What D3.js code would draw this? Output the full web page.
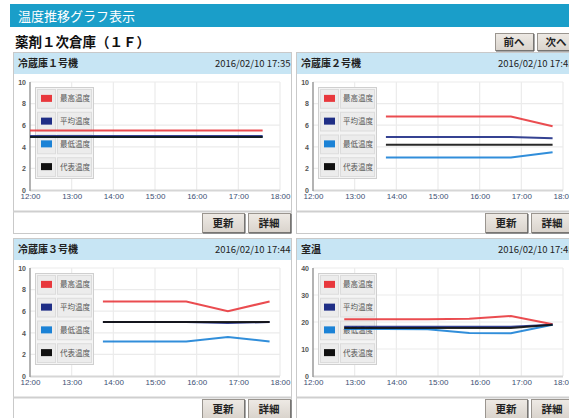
<!DOCTYPE html>
<html><head><meta charset="utf-8">
<script src="https://cdn.jsdelivr.net/npm/d3@7"></script>
<style>
body{margin:0;background:#fff;}
svg{display:block;font-family:"Noto Sans CJK JP","Noto Sans",sans-serif;}
</style>
</head><body>
<svg id="c" width="569" height="418"></svg>
<script>
// ---------- data ----------
const pageTitle = "温度推移グラフ表示";
const areaTitle = "薬剤１次倉庫（１Ｆ）";
const navButtons = ["前へ", "次へ"];
const panelButtons = ["更新", "詳細"];
const panelNames = ["冷蔵庫１号機", "冷蔵庫２号機", "冷蔵庫３号機", "室温"];
const panelDates = ["2016/02/10 17:35", "2016/02/10 17:45", "2016/02/10 17:44", "2016/02/10 17:45"];
const seriesNames = ["最高温度", "平均温度", "最低温度", "代表温度"];
const seriesColors = ["#e8383d", "#1f2e86", "#1b82d6", "#111111"];
const xTickLabels = ["12:00", "13:00", "14:00", "15:00", "16:00", "17:00", "18:00"];
const yTicksFridge = [0, 2, 4, 6, 8, 10];
const yTicksRoom = [0, 10, 20, 30, 40];

const times1 = ["12:00", "13:00", "14:00", "15:00", "16:00", "17:00", "17:35"];
const max1 = [5.5, 5.5, 5.5, 5.5, 5.5, 5.5, 5.5];
const avg1 = [5.0, 5.0, 5.0, 5.0, 5.0, 5.0, 5.0];
const min1 = [4.9, 4.9, 4.9, 4.9, 4.9, 4.9, 4.9];
const rep1 = [4.9, 4.9, 4.9, 4.9, 4.9, 4.9, 4.9];

const times2 = ["13:45", "14:45", "15:45", "16:45", "17:45"];
const max2 = [6.8, 6.8, 6.8, 6.8, 5.9];
const avg2 = [4.9, 4.9, 4.9, 4.9, 4.8];
const min2 = [3.0, 3.0, 3.0, 3.0, 3.5];
const rep2 = [4.2, 4.2, 4.2, 4.2, 4.2];

const times3 = ["13:45", "14:45", "15:45", "16:45", "17:45"];
const max3 = [6.9, 6.9, 6.9, 6.0, 6.9];
const avg3 = [5.0, 5.0, 5.0, 4.9, 5.0];
const min3 = [3.2, 3.2, 3.2, 3.6, 3.2];
const rep3 = [5.0, 5.0, 5.0, 5.0, 5.0];

const times4 = ["12:45", "13:45", "14:45", "15:45", "16:45", "17:45"];
const max4 = [21.0, 21.0, 21.0, 21.2, 22.2, 19.2];
const avg4 = [18.2, 18.2, 18.2, 18.2, 18.2, 19.0];
const min4 = [17.4, 17.4, 17.3, 15.9, 15.8, 19.0];
const rep4 = [17.8, 17.8, 17.8, 17.8, 17.8, 19.0];

const yMaxes = [10, 10, 10, 40];

// ---------- build ----------
const parse = d3.timeParse("%H:%M");
const fmt = d3.timeFormat("%H:%M");
const panelsData = [
  {name: panelNames[0], date: panelDates[0], times: times1, series: [max1, avg1, min1, rep1], ymax: yMaxes[0], yticks: yTicksFridge},
  {name: panelNames[1], date: panelDates[1], times: times2, series: [max2, avg2, min2, rep2], ymax: yMaxes[1], yticks: yTicksFridge},
  {name: panelNames[2], date: panelDates[2], times: times3, series: [max3, avg3, min3, rep3], ymax: yMaxes[2], yticks: yTicksFridge},
  {name: panelNames[3], date: panelDates[3], times: times4, series: [max4, avg4, min4, rep4], ymax: yMaxes[3], yticks: yTicksRoom}
];

const svg = d3.select("#c");
const defs = svg.append("defs");
const btnGrad = defs.append("linearGradient").attr("id", "btn").attr("x1", 0).attr("y1", 0).attr("x2", 0).attr("y2", 1);
btnGrad.append("stop").attr("offset", "0%").attr("stop-color", "#eeeae5");
btnGrad.append("stop").attr("offset", "100%").attr("stop-color", "#d9d3cc");

// title bar
svg.append("rect").attr("x", 10).attr("y", 4).attr("width", 570).attr("height", 23).attr("fill", "#1a9ec9");
svg.append("text").attr("x", 18).attr("y", 20.5).attr("fill", "#fff").attr("font-size", 13).text(pageTitle);

// area title
svg.append("text").attr("x", 15).attr("y", 47).attr("fill", "#111").attr("font-size", 13.5).attr("font-weight", "bold").text(areaTitle);

function button(g, x, y, w, h, label) {
  g.append("rect").attr("x", x + 0.5).attr("y", y + 0.5).attr("width", w).attr("height", h)
    .attr("fill", "url(#btn)").attr("stroke", "#9a958f");
  g.append("line").attr("x1", x + w + 1).attr("x2", x + w + 1).attr("y1", y + 1).attr("y2", y + h + 1).attr("stroke", "#555");
  g.append("line").attr("x1", x + 1).attr("x2", x + w + 1).attr("y1", y + h + 1).attr("y2", y + h + 1).attr("stroke", "#555");
  g.append("text").attr("x", x + w / 2).attr("y", y + h / 2 + 4).attr("text-anchor", "middle")
    .attr("font-size", 10.5).attr("font-weight", "bold").attr("fill", "#222").text(label);
}
navButtons.forEach((b, i) => button(svg, 495 + i * 42, 33, 38, 17, b));

const cols = [13, 296], rows = [52, 238];
const PW = 278, HEAD = 22, CHART = 137, BTN = 22;

panelsData.forEach((p, i) => {
  const px = cols[i % 2], py = rows[Math.floor(i / 2)];
  const g = svg.append("g");
  // frame
  g.append("rect").attr("x", px + 0.5).attr("y", py + 0.5).attr("width", PW).attr("height", HEAD + CHART + BTN)
    .attr("fill", "#fff").attr("stroke", "#c9c9c9");
  g.append("rect").attr("x", px + 1).attr("y", py + 1).attr("width", PW - 1).attr("height", HEAD - 1).attr("fill", "#c7e5f4");
  g.append("line").attr("x1", px).attr("x2", px + PW).attr("y1", py + HEAD + CHART + 0.5).attr("y2", py + HEAD + CHART + 0.5)
    .attr("stroke", "#cfcfcf").attr("stroke-width", 2);
  const clipId = "clip" + i;
  defs.append("clipPath").attr("id", clipId).append("rect").attr("x", px).attr("y", py).attr("width", PW).attr("height", HEAD);
  g.append("text").attr("x", px + 5).attr("y", py + 15).attr("font-size", 10).attr("font-weight", "bold").attr("fill", "#222").text(p.name);
  g.append("text").attr("x", px + 202).attr("y", py + 15).attr("font-size", 9.5).attr("fill", "#222")
    .attr("clip-path", `url(#${clipId})`).text(p.date);

  // plot
  const left = px + 17, right = px + 267, top = py + 30, bottom = top + 108;
  const x = d3.scaleTime().domain([parse(xTickLabels[0]), parse(xTickLabels[xTickLabels.length - 1])]).range([left, right]);
  const y = d3.scaleLinear().domain([0, p.ymax]).range([bottom, top]);
  const xTicks = xTickLabels.map(parse);

  const grid = g.append("g").attr("stroke", "#ebebeb").attr("stroke-width", 1.2);
  xTicks.slice(1).forEach(t => grid.append("line").attr("x1", x(t)).attr("x2", x(t)).attr("y1", top).attr("y2", bottom));
  p.yticks.slice(1).forEach(v => grid.append("line").attr("x1", left).attr("x2", right).attr("y1", y(v)).attr("y2", y(v)));

  g.append("line").attr("x1", left).attr("x2", right).attr("y1", bottom + 0.5).attr("y2", bottom + 0.5).attr("stroke", "#d6d6d6").attr("stroke-width", 2);
  g.append("line").attr("x1", left).attr("x2", left).attr("y1", top).attr("y2", bottom + 1).attr("stroke", "#9a9a9a").attr("stroke-width", 1.5);

  const xa = g.append("g").attr("transform", `translate(0,${bottom})`)
    .call(d3.axisBottom(x).tickValues(xTicks).tickFormat(fmt).tickSize(0).tickPadding(3));
  xa.select(".domain").remove();
  xa.selectAll("text").attr("font-size", 8).attr("fill", "#3d4f74").attr("font-family", "Liberation Sans, sans-serif");

  const ya = g.append("g").attr("transform", `translate(${left},0)`)
    .call(d3.axisLeft(y).tickValues(p.yticks).tickSize(0).tickPadding(4));
  ya.select(".domain").remove();
  ya.selectAll("text").attr("font-size", 7).attr("font-weight", "bold").attr("fill", "#555").attr("font-family", "Liberation Sans, sans-serif");

  // legend
  const lx = px + 22, ly = top + 5, rowH = 22.75;
  const lg = g.append("g");
  lg.append("rect").attr("x", lx + 0.5).attr("y", ly + 0.5).attr("width", 58).attr("height", rowH * 4)
    .attr("fill", "#f4f4f4").attr("stroke", "#cfcfcf");
  seriesNames.forEach((s, k) => {
    const ry = ly + k * rowH;
    lg.append("rect").attr("x", lx + 2.5).attr("y", ry + 2.5).attr("width", 18).attr("height", rowH - 4)
      .attr("fill", "#ececec").attr("stroke", "#dcdcdc");
    lg.append("rect").attr("x", lx + 22.5).attr("y", ry + 2.5).attr("width", 34).attr("height", rowH - 4)
      .attr("fill", "#ececec").attr("stroke", "#dcdcdc");
    lg.append("rect").attr("x", lx + 6).attr("y", ry + rowH / 2 - 3.5).attr("width", 11).attr("height", 7).attr("fill", seriesColors[k]);
    lg.append("text").attr("x", lx + 25).attr("y", ry + rowH / 2 + 3).attr("font-size", 7.5).attr("fill", "#555").text(s);
  });

  // lines
  const line = d3.line().x(d => x(d.t)).y(d => y(d.v));
  p.series.forEach((vals, k) => {
    const pts = p.times.map((t, j) => ({t: parse(t), v: vals[j]}));
    g.append("path").datum(pts).attr("d", line).attr("fill", "none")
      .attr("stroke", seriesColors[k]).attr("stroke-width", 2).attr("stroke-opacity", 0.9);
  });

  // buttons
  panelButtons.forEach((b, k) => button(g, px + 189 + k * 46, py + HEAD + CHART + 2, 42, 19, b));
});
</script>
</body></html>
